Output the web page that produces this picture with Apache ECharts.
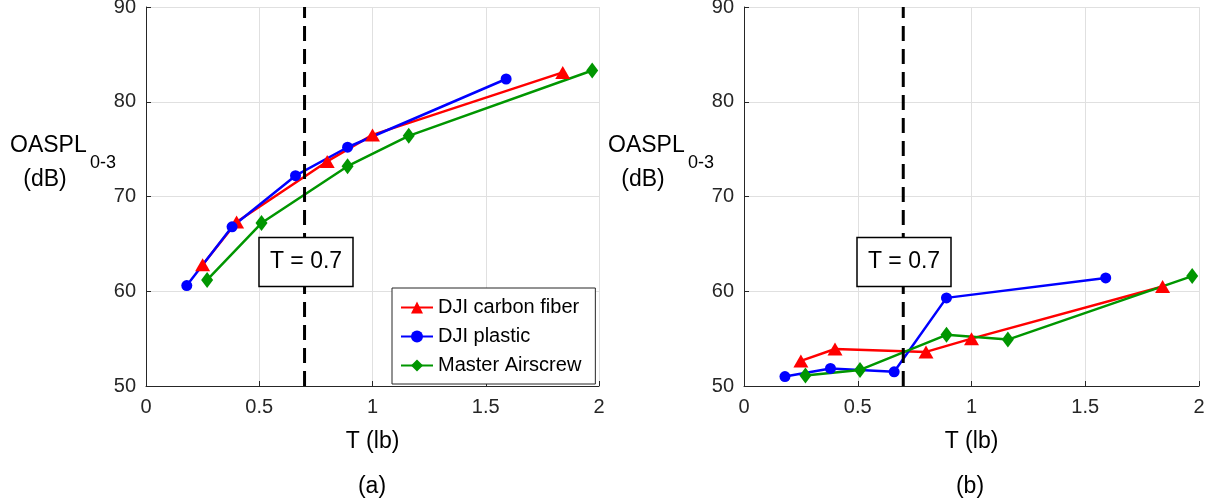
<!DOCTYPE html>
<html>
<head>
<meta charset="utf-8">
<script src="https://cdn.jsdelivr.net/npm/echarts@6/dist/echarts.min.js"></script>
<style>
html,body{margin:0;padding:0;background:#fff;}
#chart{width:1211px;height:503px;}
</style>
</head>
<body>
<div id="chart"></div>
<script>
// ---- data ----
const seriesNames = ['DJI carbon fiber', 'DJI plastic', 'Master Airscrew'];
const thrustCarbon  = [0.25, 0.40, 0.80, 1.00, 1.84];
const thrustPlastic = [0.18, 0.38, 0.66, 0.89, 1.59];
const thrustMaster  = [0.27, 0.51, 0.89, 1.16, 1.97];
// panel (a)
const oasplA_carbon  = [62.8, 67.3, 73.7, 76.5, 83.1];
const oasplA_plastic = [60.6, 66.8, 72.2, 75.2, 82.4];
const oasplA_master  = [61.2, 67.2, 73.2, 76.4, 83.3];
// panel (b)
const oasplB_carbon  = [52.65, 53.9, 53.6, 55.0, 60.5];
const oasplB_plastic = [51.0, 51.85, 51.5, 59.3, 61.4];
const oasplB_master  = [51.1, 51.7, 55.4, 54.9, 61.6];
const thresholdT = 0.7;
const thresholdLabel = 'T = 0.7';
const labelBoxAt = [0.705, 63.1];
const xTicks = [0, 0.5, 1, 1.5, 2];
const yTicks = [50, 60, 70, 80, 90];
const panelLabels = ['(a)', '(b)'];

const FONT = '"Liberation Sans", Arial, Helvetica, sans-serif';
const AX = '#262626';
const colors = ['#ff0000', '#0000ff', '#009600'];
const symbols = ['triangle', 'circle', 'diamond'];
const symSizes = [[15, 13], 11, [12, 16]];

function zip(xs, ys) { return xs.map((x, i) => [x, ys[i]]); }

const grids = [
  {left: 146, top: 7, width: 453, height: 379, outerBoundsMode: 'none'},
  {left: 744, top: 7, width: 455, height: 379, outerBoundsMode: 'none'}
];

function xAxis(i) {
  return {
    gridIndex: i, type: 'value', min: xTicks[0], max: xTicks[xTicks.length-1], interval: 0.5,
    name: 'T (lb)', nameLocation: 'middle', nameGap: 44,
    nameTextStyle: {fontFamily: FONT, fontSize: 23, color: '#000'},
    axisLine: {show: true, onZero: false, lineStyle: {color: AX, width: 1}},
    axisTick: {show: true, inside: true, length: 5, lineStyle: {color: AX}},
    axisLabel: {fontFamily: FONT, fontSize: 20, color: AX, margin: 11},
    splitLine: {show: true, showMinLine: false, showMaxLine: true, lineStyle: {color: '#e0e0e0', width: 1}}
  };
}
function yAxis(i) {
  return {
    gridIndex: i, type: 'value', min: yTicks[0], max: yTicks[yTicks.length-1], interval: 10,
    axisLine: {show: true, onZero: false, lineStyle: {color: AX, width: 1}},
    axisTick: {show: true, inside: true, length: 5, lineStyle: {color: AX}},
    axisLabel: {fontFamily: FONT, fontSize: 20, color: AX, margin: 10},
    splitLine: {show: true, showMinLine: false, showMaxLine: true, lineStyle: {color: '#e0e0e0', width: 1}}
  };
}

const panelData = [
  [oasplA_carbon, oasplA_plastic, oasplA_master],
  [oasplB_carbon, oasplB_plastic, oasplB_master]
];
const thrusts = [thrustCarbon, thrustPlastic, thrustMaster];

const series = [];
for (let p = 0; p < 2; p++) {
  for (let s = 0; s < 3; s++) {
    series.push({
      type: 'line', name: seriesNames[s], xAxisIndex: p, yAxisIndex: p,
      data: zip(thrusts[s], panelData[p][s]),
      symbol: symbols[s], symbolSize: symSizes[s], showAllSymbol: true,
      lineStyle: {color: colors[s], width: 2.5},
      itemStyle: {color: colors[s]},
      z: 3, silent: true, animation: false
    });
  }
  series.push({
    type: 'line', xAxisIndex: p, yAxisIndex: p,
    data: [[thresholdT, yTicks[0]], [thresholdT, yTicks[yTicks.length-1]]],
    symbol: 'none', lineStyle: {color: '#000', width: 3, type: [15, 8]},
    z: 6, silent: true, animation: false
  });
}

function yLabelGraphics(axisLeft) {
  const x0 = axisLeft - 136;
  return [
    {type: 'text', x: x0, y: 146, style: {text: 'OASPL', font: '23px ' + FONT, fill: '#000', textAlign: 'left', textVerticalAlign: 'middle'}},
    {type: 'text', x: x0 + 80, y: 163, style: {text: '0-3', font: '18px ' + FONT, fill: '#000', textAlign: 'left', textVerticalAlign: 'middle'}},
    {type: 'text', x: x0 + 35, y: 180, style: {text: '(dB)', font: '23px ' + FONT, fill: '#000', textAlign: 'center', textVerticalAlign: 'middle'}}
  ];
}

const baseGraphics = [
  ...yLabelGraphics(146),
  ...yLabelGraphics(744),
  {type: 'text', x: 372, y: 487, style: {text: panelLabels[0], font: '23px ' + FONT, fill: '#000', textAlign: 'center', textVerticalAlign: 'middle'}},
  {type: 'text', x: 970, y: 487, style: {text: panelLabels[1], font: '23px ' + FONT, fill: '#000', textAlign: 'center', textVerticalAlign: 'middle'}}
];

const option = {
  animation: false,
  backgroundColor: '#fff',
  grid: grids,
  xAxis: [xAxis(0), xAxis(1)],
  yAxis: [yAxis(0), yAxis(1)],
  legend: {
    data: seriesNames,
    orient: 'vertical', left: 392, top: 288,
    itemWidth: 32, itemHeight: 15, itemGap: 8,
    padding: [9, 14, 8, 8],
    backgroundColor: '#fff', borderColor: AX, borderWidth: 1, borderRadius: 0,
    textStyle: {fontFamily: FONT, fontSize: 20, color: '#000', lineHeight: 21},
    selectedMode: false
  },
  graphic: baseGraphics,
  series: series
};

const chart = echarts.init(document.getElementById('chart'), null, {renderer: 'canvas'});
chart.setOption(option);

// annotation boxes "T = 0.7", placed from data coordinates
const boxW = 94, boxH = 49;
const boxes = [0, 1].map(p => {
  const c = chart.convertToPixel({gridIndex: p}, labelBoxAt);
  return {
    type: 'group', x: Math.round(c[0]), y: Math.round(c[1]), z: 100,
    children: [
      {type: 'rect', shape: {x: -boxW/2, y: -boxH/2, width: boxW, height: boxH},
       style: {fill: '#fff', stroke: '#000', lineWidth: 1.5}, z: 100},
      {type: 'text', x: 0, y: 0, z: 101,
       style: {text: thresholdLabel, font: '23px ' + FONT, fill: '#000', textAlign: 'center', textVerticalAlign: 'middle'}}
    ]
  };
});
chart.setOption({graphic: baseGraphics.concat(boxes)});
</script>
</body>
</html>
